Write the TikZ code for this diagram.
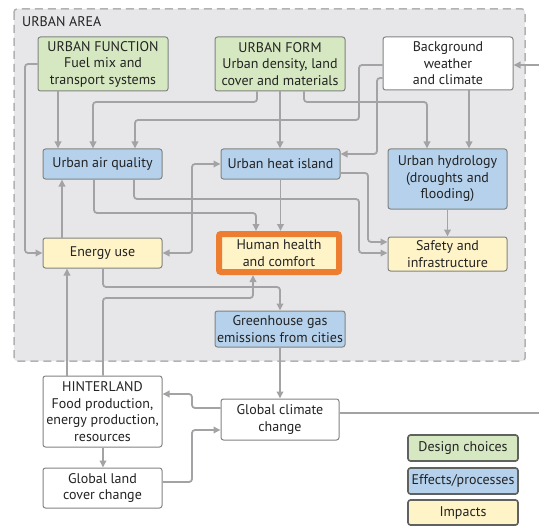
\documentclass[tikz,border=0pt]{standalone}
\usepackage{fontspec}
\setmainfont{PT Sans}
\usetikzlibrary{arrows.meta}

\definecolor{dgreen}{RGB}{214,232,193}
\definecolor{eblue}{RGB}{181,209,236}
\definecolor{iyellow}{RGB}{255,244,200}
\definecolor{areabg}{RGB}{231,231,233}
\definecolor{arealine}{RGB}{178,178,180}
\definecolor{boxline}{RGB}{128,132,128}
\definecolor{legline}{RGB}{95,98,95}
\definecolor{wire}{RGB}{163,163,165}
\definecolor{txt}{RGB}{35,35,35}
\definecolor{hilite}{RGB}{237,125,49}

\begin{document}
\begin{tikzpicture}[x=1pt,y=-1pt,
  box/.style={draw=boxline, line width=1pt, rounded corners=2.5pt, align=center,
    inner sep=0pt, text=txt, font=\fontsize{14}{16.5}\selectfont},
  design/.style={box, fill=dgreen},
  effect/.style={box, fill=eblue},
  impact/.style={box, fill=iyellow},
  plain/.style={box, fill=white},
  legend/.style={box, draw=legline, line width=1.6pt, minimum width=110pt},
  conn/.style={draw=wire, line width=1.8pt, rounded corners=3pt,
    -{Triangle[length=7pt,width=6.5pt]}},
  both/.style={conn, {Triangle[length=7pt,width=6.5pt]}-{Triangle[length=7pt,width=6.5pt]}},
]
\useasboundingbox (0,0) rectangle (539,527);
\fill[white] (0,0) rectangle (539,527);

% urban area frame
\draw[arealine, fill=areabg, line width=1.5pt, dash pattern=on 8pt off 5pt, rounded corners=3pt]
  (14,9) rectangle (525,361);
\node[anchor=west, text=txt, font=\fontsize{14}{16.5}\selectfont, inner sep=0pt] (area) at (22,22) {URBAN AREA};

% design choices and drivers
\node[design, minimum width=130pt, minimum height=54pt] (uf) at (103,64)
  {URBAN FUNCTION\\Fuel mix and\\transport systems};
\node[design, minimum width=130pt, minimum height=54pt] (uform) at (280,64)
  {URBAN FORM\\Urban density, land\\cover and materials};
\node[plain, minimum width=130pt, minimum height=53pt] (bw) at (448,63.5)
  {Background\\weather\\and climate};

% effects / processes
\node[effect, minimum width=119pt, minimum height=30pt] (aq) at (102.5,164) {Urban air quality};
\node[effect, minimum width=119pt, minimum height=30pt] (uhi) at (280.5,164) {Urban heat island};
\node[effect, minimum width=119pt, minimum height=60pt] (hyd) at (447.5,179)
  {Urban hydrology\\(droughts and\\flooding)};

% impacts
\node[impact, minimum width=119pt, minimum height=30pt] (en) at (102.5,253) {Energy use};
\node[impact, draw=hilite, line width=6pt, rounded corners=2pt, minimum width=120pt, minimum height=38pt]
  (hh) at (279,253) {Human health\\and comfort};
\node[impact, minimum width=119pt, minimum height=34pt] (saf) at (447.5,254)
  {Safety and\\infrastructure};
\node[effect, minimum width=130pt, minimum height=36pt] (ghg) at (280,329)
  {Greenhouse gas\\emissions from cities};

% outside the urban area
\node[plain, minimum width=119pt, minimum height=71pt] (hin) at (102.5,411.5)
  {HINTERLAND\\Food production,\\energy production,\\resources};
\node[plain, minimum width=119pt, minimum height=40pt] (glc) at (102.5,488)
  {Global land\\cover change};
\node[plain, minimum width=118pt, minimum height=41pt] (gcc) at (280,419.5)
  {Global climate\\change};

% legend
\node[legend, fill=dgreen, minimum height=26pt] (lg1) at (463,448) {Design choices};
\node[legend, fill=eblue, minimum height=26pt] (lg2) at (463,481) {Effects/processes};
\node[legend, fill=iyellow, minimum height=25pt] (lg3) at (463,512.5) {Impacts};

% connectors
\draw[conn] (uf.west) -- (25,64) |- (en.west);
\draw[conn] (uf.south -| 58,0) -- (aq.north -| 58,0);
\draw[conn] (uform.south -| 257,0) |- (93,102) -- (aq.north -| 93,0);
\draw[conn] (bw.west |- 0,65) -| (359,120) -| (aq.north -| 135,0);
\draw[conn] (bw.west |- 0,78) -| (377,154) -- (uhi.east |- 0,154);
\draw[conn] (uform.south) -- (uform.south |- uhi.north);
\draw[conn] (uform.south -| 304,0) |- (427,102) -- (hyd.north -| 427,0);
\draw[conn] (bw.south -| 469,0) -- (hyd.north -| 469,0);
\draw[conn] (hyd.south) -- (hyd.south |- saf.north);
\draw[conn] (uhi.east |- 0,173) -| (368,242) -- (saf.west |- 0,242);
\draw[conn] (aq.south -| 134,0) |- (359,199) |- (saf.west |- 0,253);
\draw[conn] (aq.south -| 94,0) |- (256,213) -- (hh.north -| 256,0);
\draw[conn] (uhi.south) -- (uhi.south |- hh.north);
\draw[conn] (en.north -| 62,0) -- (aq.south -| 62,0);
\draw[both] (en.east) -- (192,253) |- (uhi.west);
\draw[conn] (en.south -| 103,0) |- (280,287) -- (ghg.north -| 280,0);
\draw[conn] (hin.north -| 67,0) -- (en.south -| 67,0);
\draw[conn] (hin.north -| 103,0) |- (253,298) -- (hh.south -| 253,0);
\draw[conn] (ghg.south) -- (gcc.north);
\draw[conn] (gcc.west |- 0,408) -| (192,394) -- (hin.east |- 0,394);
\draw[conn] (glc.east |- 0,482) -| (192,430) -- (gcc.west |- 0,430);
\draw[conn] (hin.south -| 103,0) -- (glc.north -| 103,0);
\draw[conn] (gcc.east |- 0,413) -- (548,413) -- (548,65) -- (bw.east |- 0,65);
\end{tikzpicture}
\end{document}
